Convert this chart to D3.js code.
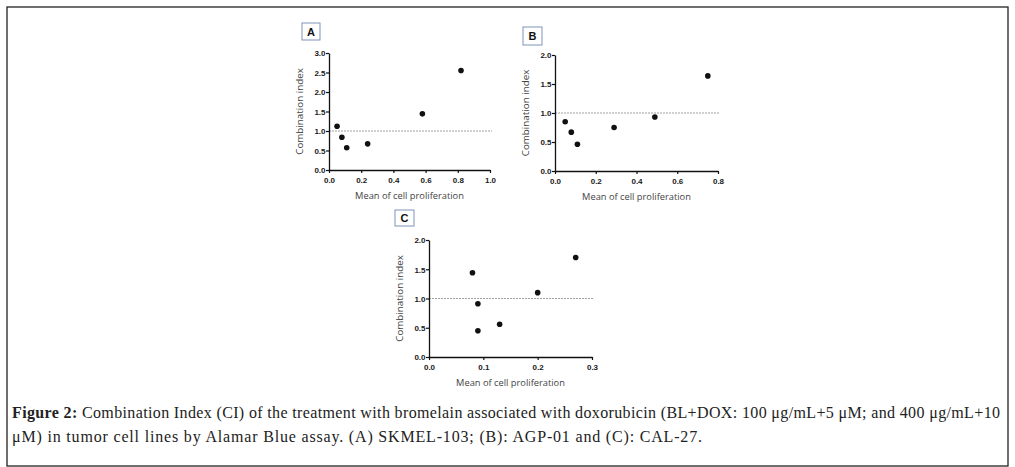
<!DOCTYPE html>
<html><head><meta charset="utf-8">
<script src="https://cdn.jsdelivr.net/npm/d3@7"></script>
<style>body{margin:0;background:#fff}svg{display:block}</style>
</head><body>
<svg id="c" width="1015" height="467"></svg>
<script>
const panelLabels = ["A","B","C"];
const xA = [0.05,0.08,0.11,0.24,0.58,0.82];
const yA = [1.12,0.84,0.57,0.67,1.44,2.55];
const xB = [0.05,0.08,0.11,0.29,0.49,0.75];
const yB = [0.85,0.67,0.46,0.75,0.93,1.64];
const xC = [0.08,0.09,0.09,0.13,0.20,0.27];
const yC = [1.44,0.91,0.45,0.56,1.10,1.70];
const xTicksA = [0,0.2,0.4,0.6,0.8,1.0];
const yTicksA = [0,0.5,1.0,1.5,2.0,2.5,3.0];
const xTicksB = [0,0.2,0.4,0.6,0.8];
const yTicksB = [0,0.5,1.0,1.5,2.0];
const xTicksC = [0,0.1,0.2,0.3];
const yTicksC = [0,0.5,1.0,1.5,2.0];
const refLine = 1.0;
const xTitle = "Mean of cell proliferation";
const yTitle = "Combination index";
const caption1 = "Combination Index (CI) of the treatment with bromelain associated with doxorubicin (BL+DOX: 100 μg/mL+5 μM; and 400 μg/mL+10";
const caption2 = "μM) in tumor cell lines by Alamar Blue assay. (A) SKMEL-103; (B): AGP-01 and (C): CAL-27.";

const svg = d3.select("#c");
svg.append("rect").attr("x",7).attr("y",7).attr("width",1001).attr("height",459)
  .attr("fill","none").attr("stroke","#222").attr("stroke-width",1.3);

const panels = [
  {lab:"A", xs:xA, ys:yA, xd:[0,1], yd:[0,3], xt:xTicksA, yt:yTicksA, x0:329, x1:490, y0:170, y1:53, box:[302,23,18,17], gridEnd:492},
  {lab:"B", xs:xB, ys:yB, xd:[0,0.8], yd:[0,2], xt:xTicksB, yt:yTicksB, x0:555, x1:718, y0:171, y1:55, box:[523,27,19,18], gridEnd:720},
  {lab:"C", xs:xC, ys:yC, xd:[0,0.3], yd:[0,2], xt:xTicksC, yt:yTicksC, x0:429, x1:592, y0:357, y1:240, box:[395,210,19,16], gridEnd:594}
];
const fmt = d3.format(".1f");
panels.forEach(p => {
  const x = d3.scaleLinear().domain(p.xd).range([p.x0,p.x1]);
  const y = d3.scaleLinear().domain(p.yd).range([p.y0,p.y1]);
  const g = svg.append("g");
  g.append("rect").attr("x",p.box[0]).attr("y",p.box[1]).attr("width",p.box[2]).attr("height",p.box[3])
    .attr("fill","#fff").attr("stroke","#7f93b8").attr("stroke-width",1);
  g.append("text").attr("x",p.box[0]+p.box[2]/2).attr("y",p.box[1]+p.box[3]/2+4)
    .attr("text-anchor","middle").attr("font-family","Liberation Sans, Arial, sans-serif")
    .attr("font-size",11).attr("font-weight","bold").attr("fill","#111").text(p.lab);
  g.append("line").attr("x1",p.x0).attr("x2",p.gridEnd).attr("y1",y(refLine)).attr("y2",y(refLine))
    .attr("stroke","#888").attr("stroke-width",0.8).attr("stroke-dasharray","2,1");
  const xa = g.append("g").attr("transform",`translate(0,${p.y0})`)
    .call(d3.axisBottom(x).tickValues(p.xt).tickFormat(fmt).tickSize(3).tickSizeOuter(0));
  const ya = g.append("g").attr("transform",`translate(${p.x0},0)`)
    .call(d3.axisLeft(y).tickValues(p.yt).tickFormat(fmt).tickSize(3).tickSizeOuter(0));
  [xa,ya].forEach(a=>{
    a.selectAll("path").attr("stroke","#111").attr("stroke-width",1.3);
    a.selectAll("line").attr("stroke","#111").attr("stroke-width",1.2);
    a.selectAll("text").attr("font-family","Liberation Sans, Arial, sans-serif").attr("font-size",8)
      .attr("font-weight","bold").attr("fill","#1a1a1a");
  });
  xa.selectAll("text").attr("dy","0.9em");
  ya.selectAll("text").attr("x",-3.5).attr("dy","0.35em");
  g.selectAll("circle.pt").data(p.xs.map((v,i)=>[v,p.ys[i]])).join("circle")
    .attr("cx",d=>x(d[0])).attr("cy",d=>y(d[1])).attr("r",2.8).attr("fill","#111");
  g.append("text").attr("x",(p.x0+p.x1)/2).attr("y",p.y0+29).attr("text-anchor","middle")
    .attr("font-family","Open Sans, Liberation Sans, sans-serif").attr("font-size",9.3).attr("fill","#444").text(xTitle);
  g.append("text").attr("transform",`translate(${p.x0-26},${(p.y0+p.y1)/2}) rotate(-90)`).attr("text-anchor","middle")
    .attr("font-family","Open Sans, Liberation Sans, sans-serif").attr("font-size",9.8).attr("fill","#444").text(yTitle);
});

const cap = svg.append("g").attr("font-family","Liberation Serif, serif").attr("font-size",16).attr("fill","#222");
const t1 = cap.append("text").attr("x",12).attr("y",418).attr("textLength",988).attr("lengthAdjust","spacing");
t1.append("tspan").attr("font-weight","bold").text("Figure 2: ");
t1.append("tspan").text(caption1);
cap.append("text").attr("x",12).attr("y",442).attr("textLength",690).attr("lengthAdjust","spacing").text(caption2);
</script>
</body></html>
